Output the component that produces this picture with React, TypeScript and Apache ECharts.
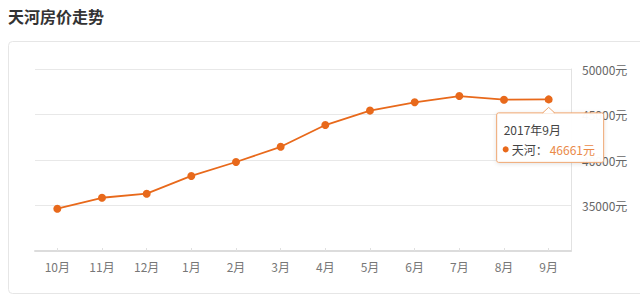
import React, { useEffect, useRef } from "react";
import * as echarts from "echarts";

const title = "天河房价走势";
const months = ["10月", "11月", "12月", "1月", "2月", "3月", "4月", "5月", "6月", "7月", "8月", "9月"];
const prices = [34650, 35850, 36300, 38250, 39780, 41450, 43840, 45430, 46340, 47030, 46630, 46661];
const seriesName = "天河";
const tipTitle = "2017年9月";
const yTicks = [30000, 35000, 40000, 45000, 50000];

const ORANGE = "#e8691b";
const FONT = "'Noto Sans CJK SC', 'Noto Sans', sans-serif";

export default function App() {
  const ref = useRef<HTMLDivElement>(null);
  useEffect(() => {
    const chart = echarts.init(ref.current!, null, { renderer: "svg" });
    chart.setOption({
      animation: false,
      backgroundColor: "#ffffff",
      textStyle: { fontFamily: FONT },
      grid: { left: 35, right: 69, top: 69, bottom: 50, containLabel: false },
      xAxis: {
        type: "category",
        data: months,
        boundaryGap: true,
        axisLine: { show: true, lineStyle: { color: "#dcdcdc", width: 2 } },
        axisTick: { show: true, inside: true, alignWithLabel: true, length: 3, lineStyle: { color: "#e0e0e0" } },
        axisLabel: { color: "#777", fontSize: 12, margin: 9, fontFamily: FONT },
        splitLine: { show: false },
      },
      yAxis: {
        type: "value",
        position: "right",
        min: yTicks[0],
        max: yTicks[yTicks.length - 1],
        interval: 5000,
        axisLine: { show: true, lineStyle: { color: "#e2e2e2", width: 1 } },
        axisTick: { show: false },
        axisLabel: {
          color: "#666",
          fontSize: 12,
          margin: 11,
          fontFamily: FONT,
          formatter: (v: number) => (v === yTicks[0] ? "" : v + "元"),
        },
        splitLine: { show: true, lineStyle: { color: "#e8e8e8", width: 1 } },
      },
      series: [
        {
          name: seriesName,
          type: "line",
          data: prices,
          symbol: "circle",
          symbolSize: 8,
          lineStyle: { color: ORANGE, width: 1.8 },
          itemStyle: { color: ORANGE },
        },
      ],
    });

    const last = prices.length - 1;
    const [px, py] = chart.convertToPixel({ seriesIndex: 0 }, [last, prices[last]]) as number[];
    const Z = 100;

    chart.setOption({
      graphic: [
        {
          type: "text",
          left: 8,
          top: 8,
          z: 10,
          style: { text: title, fontSize: 16, fontWeight: "bold", fill: "#333", fontFamily: FONT },
        },
        {
          type: "rect",
          z: -10,
          silent: true,
          shape: { x: 8.5, y: 41.5, width: 660, height: 252, r: 4 },
          style: { fill: "rgba(0,0,0,0)", stroke: "#e6e6e6", lineWidth: 1 },
        },
        {
          type: "group",
          x: px,
          y: py,
          z: Z,
          children: [
            {
              type: "rect",
              z: Z,
              shape: { x: -52, y: 13.5, width: 107, height: 49.5, r: 2 },
              style: {
                fill: "rgba(255,255,255,0.96)",
                stroke: "#efa771",
                lineWidth: 1,
                shadowBlur: 4,
                shadowColor: "rgba(0,0,0,0.12)",
                shadowOffsetY: 1,
              },
            },
            {
              type: "polygon",
              z: Z + 1,
              shape: { points: [[-6, 14], [0, 8.5], [6, 14]] },
              style: { fill: "#ffffff" },
            },
            {
              type: "polyline",
              z: Z + 2,
              shape: { points: [[-6, 13.5], [0, 8], [6, 13.5]] },
              style: { stroke: "#efa771", lineWidth: 1, fill: "none" },
            },
            {
              type: "text",
              z: Z + 2,
              x: -45,
              y: 30,
              style: { text: tipTitle, fontSize: 12, fill: "#444", verticalAlign: "middle", fontFamily: FONT },
            },
            {
              type: "circle",
              z: Z + 2,
              shape: { cx: -43, cy: 50, r: 3 },
              style: { fill: ORANGE },
            },
            {
              type: "text",
              z: Z + 2,
              x: -37,
              y: 50,
              style: { text: seriesName + "：", fontSize: 12, fill: "#444", verticalAlign: "middle", fontFamily: FONT },
            },
            {
              type: "text",
              z: Z + 2,
              x: 1,
              y: 50,
              style: { text: prices[last] + "元", fontSize: 12, fill: "#ea8a48", verticalAlign: "middle", fontFamily: FONT },
            },
          ],
        },
      ],
    });

    return () => chart.dispose();
  }, []);
  return (
    <div
      ref={ref}
      style={{ position: "fixed", left: 0, top: 0, width: 640, height: 301, background: "#fff" }}
    />
  );
}
